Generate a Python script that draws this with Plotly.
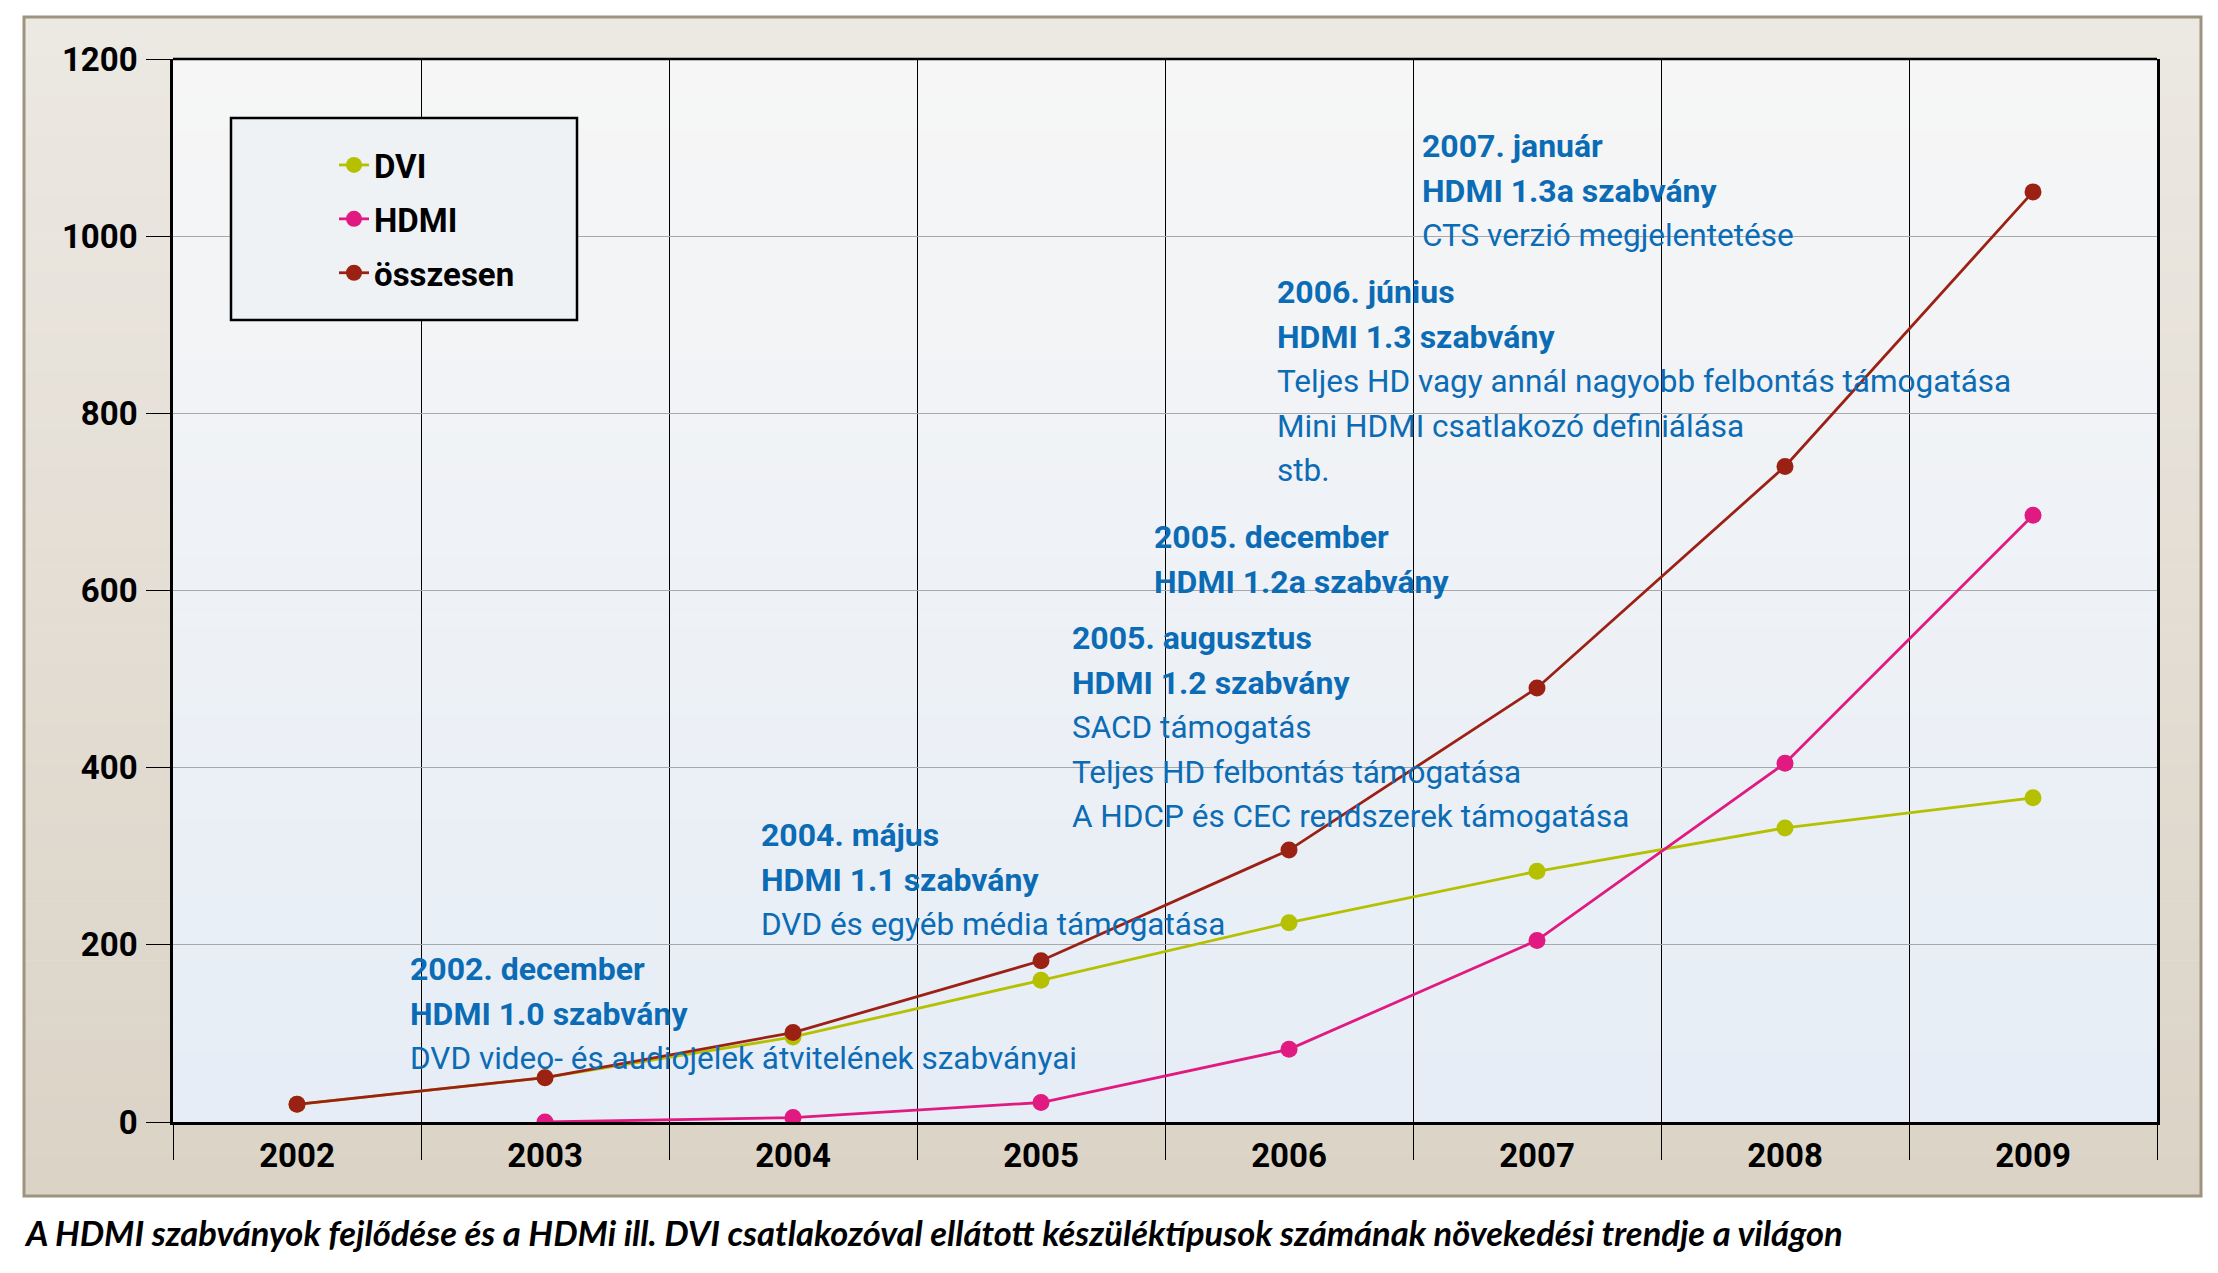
import plotly.graph_objects as go

# ---------------- data ----------------
years = ["2002", "2003", "2004", "2005", "2006", "2007", "2008", "2009"]
dvi = [20, 50, 96, 160, 225, 283, 332, 366]
hdmi = [None, 0, 5, 22, 82, 205, 405, 685]
total = [20, 50, 101, 182, 307, 490, 740, 1050]
y_ticks = [0, 200, 400, 600, 800, 1000, 1200]

series_names = ["DVI", "HDMI", "összesen"]

ev_2002_head = ["2002. december", "HDMI 1.0 szabvány"]
ev_2002_body = ["DVD video- és audiojelek átvitelének szabványai"]
ev_2004_head = ["2004. május", "HDMI 1.1 szabvány"]
ev_2004_body = ["DVD és egyéb média támogatása"]
ev_2005a_head = ["2005. augusztus", "HDMI 1.2 szabvány"]
ev_2005a_body = ["SACD támogatás", "Teljes HD felbontás támogatása",
                 "A HDCP és CEC rendszerek támogatása"]
ev_2005d_head = ["2005. december", "HDMI 1.2a szabvány"]
ev_2005d_body = []
ev_2006_head = ["2006. június", "HDMI 1.3 szabvány"]
ev_2006_body = ["Teljes HD vagy annál nagyobb felbontás támogatása",
                "Mini HDMI csatlakozó definiálása", "stb."]
ev_2007_head = ["2007. január", "HDMI 1.3a szabvány"]
ev_2007_body = ["CTS verzió megjelentetése"]

caption = ("A HDMI szabványok fejlődése és a HDMi ill. DVI csatlakozóval ellátott "
           "készüléktípusok számának növekedési trendje a világon")

# ---------------- layout geometry (page pixels) ----------------
W, H = 2218, 1273
OFF = 8                      # body margin of the html page
L, R, T, B = 173, 2157, 59, 1122
PW, PH = R - L, B - T
FIG_W, FIG_H = W - 2 * OFF, H - 2 * OFF


def px(x):
    return (x - L) / PW


def py(y):
    return (B - y) / PH


FONT = "Roboto, Liberation Sans, Arial, sans-serif"
BLUE = "#0b6cb5"
C_DVI, C_HDMI, C_TOT = "#b4c000", "#e01a80", "#9c2115"


def lerp(c1, c2, t):
    a = [int(c1[i:i + 2], 16) for i in (1, 3, 5)]
    b = [int(c2[i:i + 2], 16) for i in (1, 3, 5)]
    return "rgb(%d,%d,%d)" % tuple(round(a[k] + (b[k] - a[k]) * t) for k in range(3))


shapes = []
# outer frame gradient
fx0, fx1, fy0, fy1 = 24, 2201, 17, 1196
N = 60
for i in range(N):
    ya = fy0 + (fy1 - fy0) * i / N
    yb = fy0 + (fy1 - fy0) * (i + 1) / N + 0.6
    shapes.append(dict(type="rect", xref="paper", yref="paper", layer="below",
                       x0=px(fx0), x1=px(fx1), y0=py(yb), y1=py(ya),
                       fillcolor=lerp("#ece8e2", "#dbd3c6", i / (N - 1)),
                       line=dict(width=0)))
shapes.append(dict(type="rect", xref="paper", yref="paper", layer="below",
                   x0=px(fx0), x1=px(fx1), y0=py(fy1), y1=py(fy0),
                   fillcolor="rgba(0,0,0,0)", line=dict(color="#9e937f", width=3)))
# plot area gradient
for i in range(N):
    ya = T + PH * i / N
    yb = T + PH * (i + 1) / N + 0.6
    shapes.append(dict(type="rect", xref="paper", yref="paper", layer="below",
                       x0=0, x1=1, y0=py(min(yb, B)), y1=py(ya),
                       fillcolor=lerp("#f6f6f6", "#e6edf6", i / (N - 1)),
                       line=dict(width=0)))
# top border of plot
shapes.append(dict(type="line", xref="paper", yref="paper", layer="above",
                   x0=0, x1=1, y0=1, y1=1, line=dict(color="black", width=2.5)))
# legend box
shapes.append(dict(type="rect", xref="paper", yref="paper", layer="above",
                   x0=px(231), x1=px(577), y0=py(320), y1=py(118),
                   fillcolor="#eef2f5", line=dict(color="black", width=2.5)))

fig = go.Figure()
for name, vals, col, grp in [(series_names[0], dvi, C_DVI, "a"),
                             (series_names[1], hdmi, C_HDMI, "b"),
                             (series_names[2], total, C_TOT, "c")]:
    fig.add_trace(go.Scatter(x=years, y=vals, name=name, mode="lines+markers",
                             legendgroup=grp,
                             line=dict(color=col, width=2.8),
                             marker=dict(color=col, size=17)))

annotations = []
LINE = 44.7
events = [
    (410, 969, ev_2002_head, ev_2002_body),
    (761, 835, ev_2004_head, ev_2004_body),
    (1072, 638, ev_2005a_head, ev_2005a_body),
    (1154, 537, ev_2005d_head, ev_2005d_body),
    (1277, 292, ev_2006_head, ev_2006_body),
    (1422, 146, ev_2007_head, ev_2007_body),
]
for x0, y0, head, body in events:
    for k, txt in enumerate(head + body):
        bold = k < len(head)
        annotations.append(dict(
            xref="paper", yref="paper", x=px(x0 - 2), y=py(y0 + k * LINE),
            xanchor="left", yanchor="middle", showarrow=False,
            text=txt,
            font=dict(family=FONT, size=32 if bold else 31.5, color=BLUE,
                      weight="bold" if bold else "normal")))

annotations.append(dict(
    xref="paper", yref="paper", x=px(22), y=py(1232), xanchor="left",
    yanchor="middle", showarrow=False, text="<b><i>" + caption + "</i></b>",
    font=dict(family="Lato, Open Sans, sans-serif", size=34.5, color="black")))

fig.update_layout(
    width=FIG_W, height=FIG_H, autosize=False,
    margin=dict(l=L - OFF, r=(W - OFF) - R, t=T - OFF, b=(H - OFF) - B, pad=0),
    paper_bgcolor="white", plot_bgcolor="rgba(0,0,0,0)",
    shapes=shapes, annotations=annotations,
    showlegend=True,
    legend=dict(x=px(334), y=py(137), xanchor="left", yanchor="top",
                bgcolor="rgba(0,0,0,0)", borderwidth=0,
                tracegroupgap=8,
                font=dict(family=FONT, size=33, color="black", weight="bold")),
    xaxis=dict(type="category", tickson="boundaries", range=[-0.5, 7.5],
               showgrid=True, gridcolor="black", gridwidth=1,
               ticks="outside", ticklen=35, tickwidth=1, tickcolor="black",
               showline=True, linecolor="black", linewidth=3,
               ticklabelstandoff=2,
               tickfont=dict(family=FONT, size=33, color="black", weight="bold"),
               zeroline=False, fixedrange=True),
    yaxis=dict(range=[0, 1200], tickvals=y_ticks,
               showgrid=True, gridcolor="#a8a8a8", gridwidth=1,
               ticks="outside", ticklen=24, tickwidth=1, tickcolor="black",
               showline=True, linecolor="black", linewidth=2.5, mirror=True,
               ticklabelstandoff=2,
               tickfont=dict(family=FONT, size=33, color="black", weight="bold"),
               zeroline=False, fixedrange=True),
)

fig.write_html("out.html")
